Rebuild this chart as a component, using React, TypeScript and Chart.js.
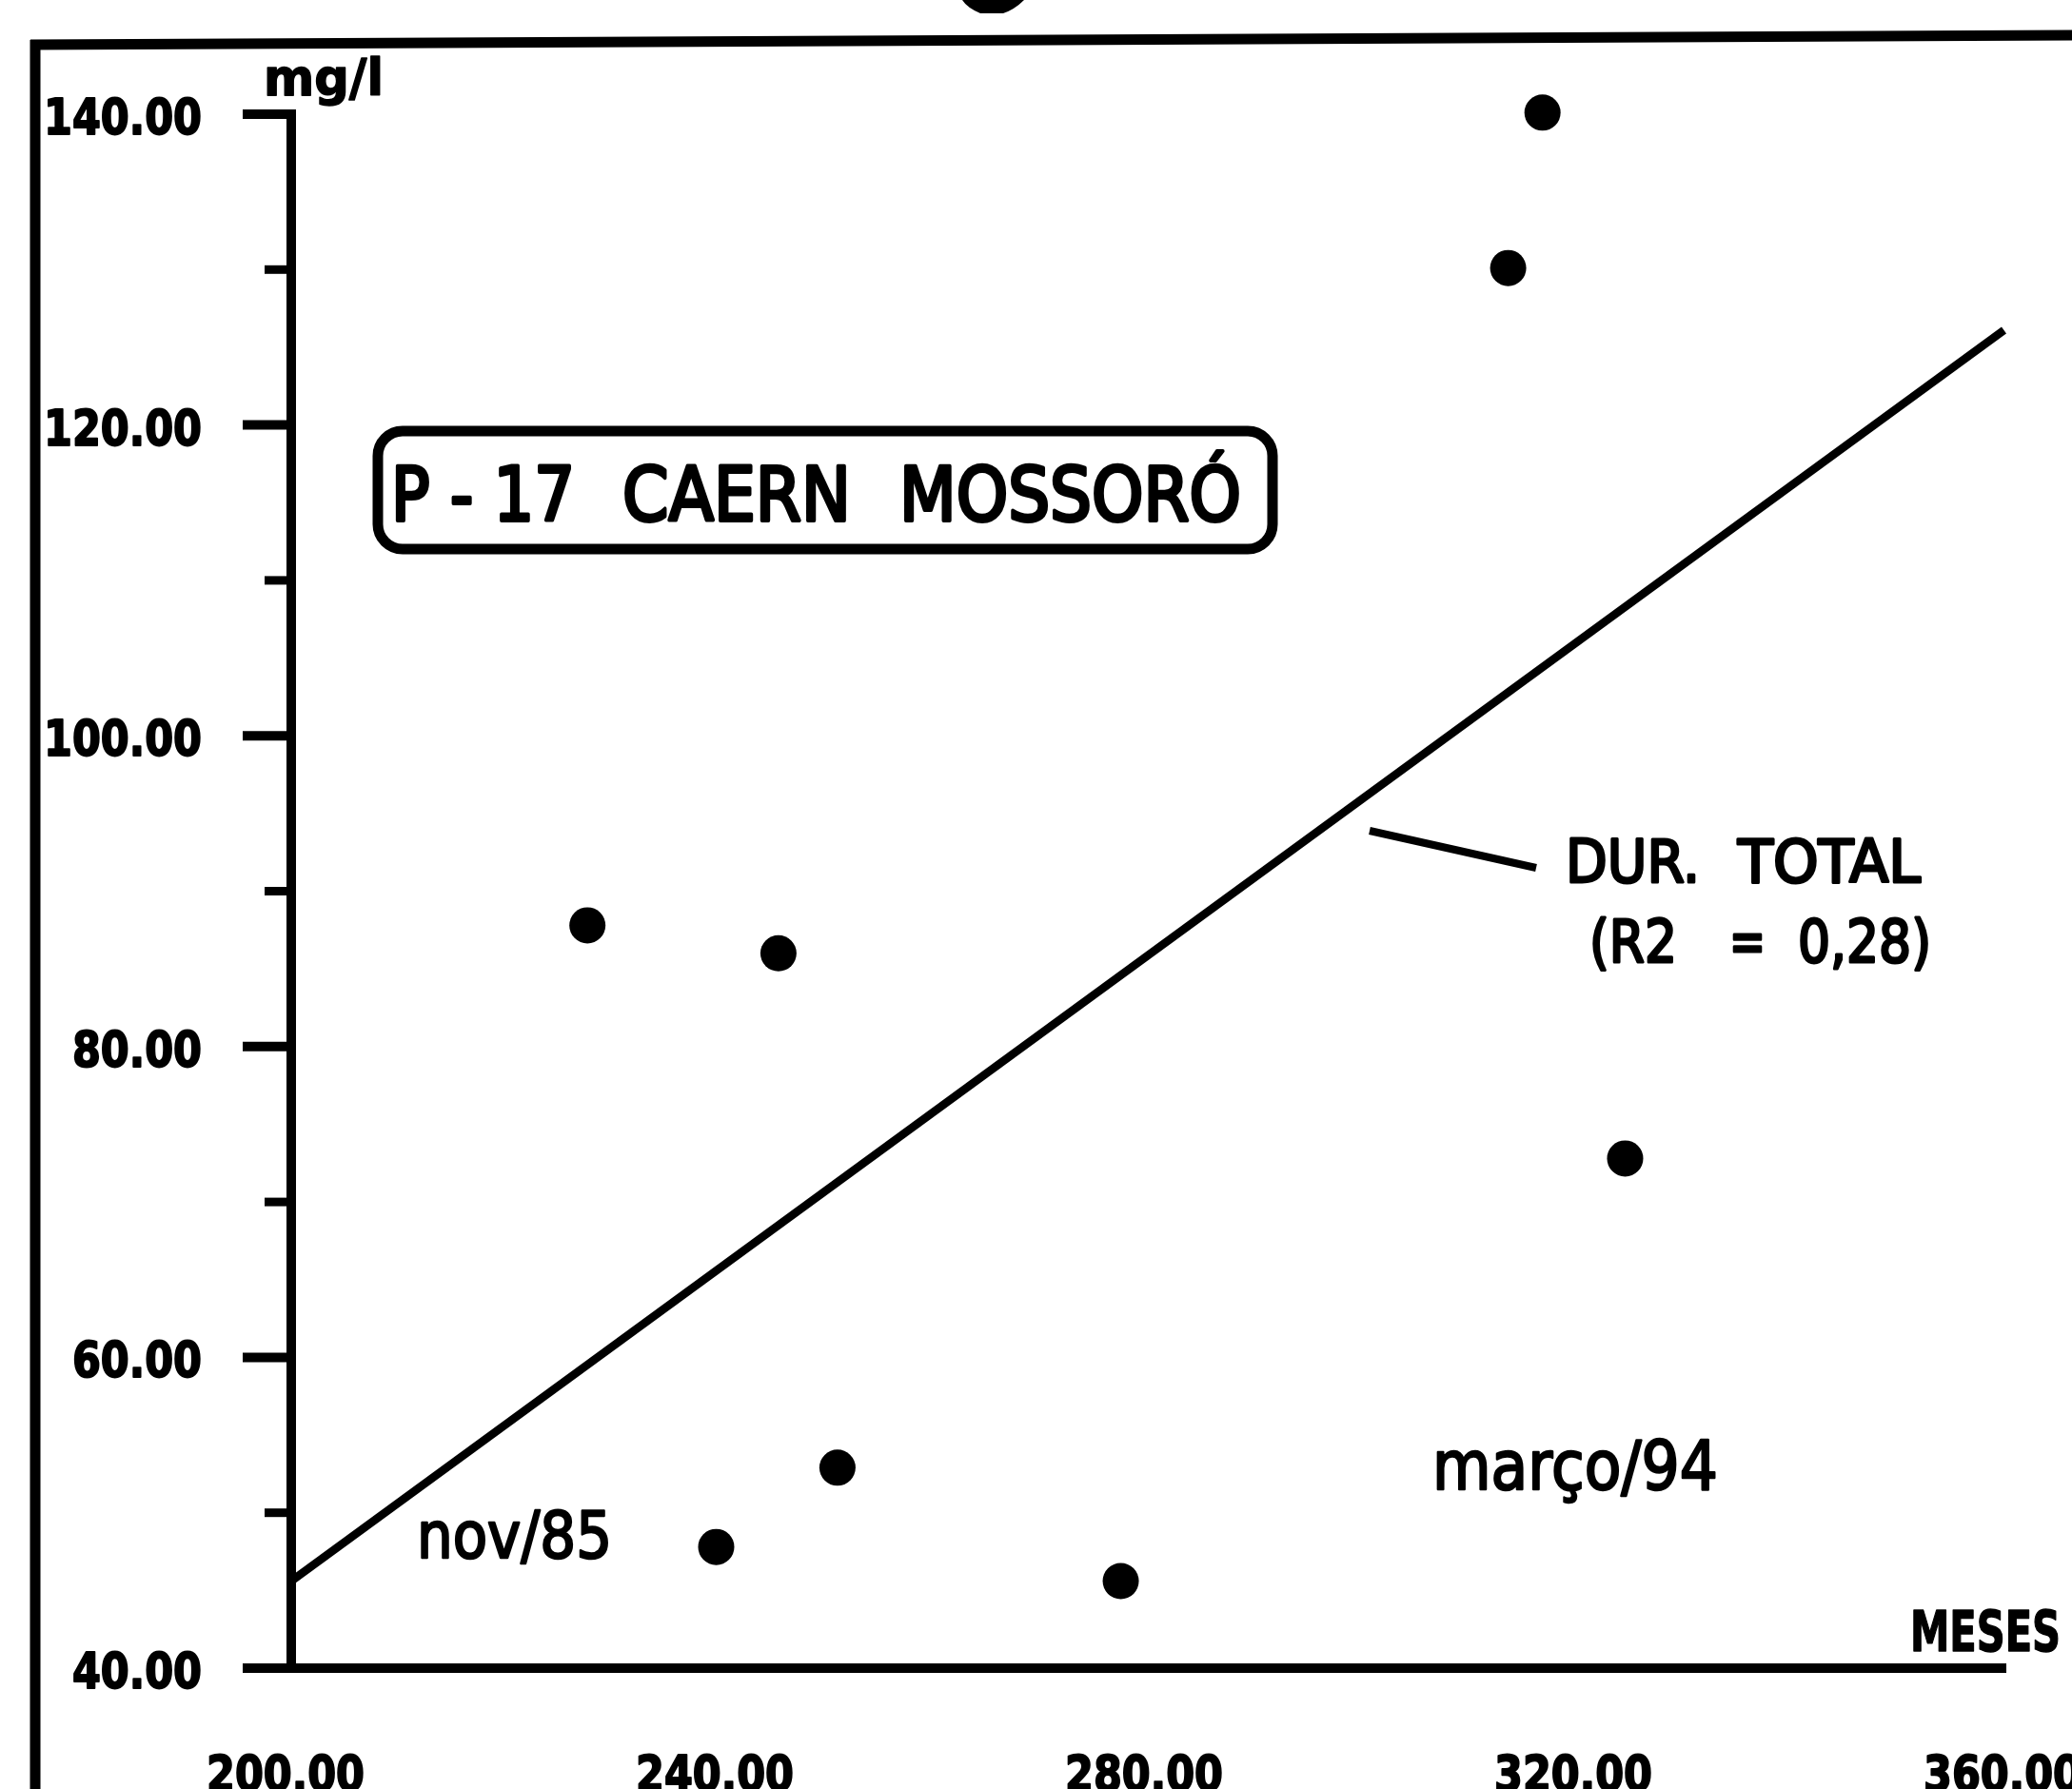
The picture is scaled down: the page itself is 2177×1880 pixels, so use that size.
import React, { useEffect, useRef } from "react";
import { Chart, registerables } from "chart.js";

Chart.register(...registerables);

// ---- data ----
const monthsX = [227.6, 245.4, 250.9, 239.6, 277.3, 313.4, 316.6, 324.3];
const hardnessY = [87.8, 86.0, 52.9, 47.8, 45.6, 130.1, 140.1, 72.8];
const trendX = [200, 359.6];
const trendY = [45.6, 126.1];
const xTicks = [200, 240, 280, 320, 360];
const xTickLabels = ["200.00", "240.00", "280.00", "320.00", "360.00"];
const yTicks = [40, 60, 80, 100, 120, 140];
const yTickLabels = ["40.00", "60.00", "80.00", "100.00", "120.00", "140.00"];
const yMinorTicks = [50, 70, 90, 110, 130];
const boxTitleParts = ["P - 17", "CAERN", "MOSSORÓ"];
const lineLabel = ["DUR.", "TOTAL"];
const r2Label = ["(R2", "=", "0,28)"];
const startLabel = "nov/85";
const endLabel = "março/94";
const yUnit = "mg/l";
const xUnit = "MESES";

const FONT = '"DejaVu Sans", "Liberation Sans", sans-serif';

function drawScaled(
  ctx: CanvasRenderingContext2D,
  text: string,
  x: number,
  baseline: number,
  font: string,
  opts: { width?: number; sx?: number; align?: "left" | "right" | "center"; stroke?: number } = {}
) {
  ctx.save();
  ctx.font = font;
  const w = ctx.measureText(text).width;
  const sx = opts.width ? opts.width / w : opts.sx ?? 1;
  const realW = w * sx;
  let left = x;
  if (opts.align === "right") left = x - realW;
  else if (opts.align === "center") left = x - realW / 2;
  ctx.translate(left, baseline);
  ctx.scale(sx, 1);
  ctx.textAlign = "left";
  ctx.textBaseline = "alphabetic";
  ctx.fillStyle = "#000";
  ctx.fillText(text, 0, 0);
  if (opts.stroke) {
    ctx.strokeStyle = "#000";
    ctx.lineWidth = opts.stroke;
    ctx.lineJoin = "round";
    ctx.strokeText(text, 0, 0);
  }
  ctx.restore();
}

const sketchPlugin = {
  id: "sketchDecor",
  beforeDraw(chart: any) {
    const ctx = chart.ctx as CanvasRenderingContext2D;
    ctx.save();
    ctx.fillStyle = "#fff";
    ctx.fillRect(0, 0, chart.width, chart.height);
    ctx.restore();
  },
  beforeDatasetsDraw(chart: any) {
    const ctx = chart.ctx as CanvasRenderingContext2D;
    const xs = chart.scales.x;
    const ys = chart.scales.y;
    const x0 = xs.getPixelForValue(xTicks[0]);
    const xEnd = xs.getPixelForValue(xTicks[xTicks.length - 1]);
    const y0 = ys.getPixelForValue(yTicks[0]);
    const yTop = ys.getPixelForValue(yTicks[yTicks.length - 1]);
    ctx.save();
    ctx.strokeStyle = "#000";
    ctx.fillStyle = "#000";
    ctx.lineCap = "butt";

    // outer frame (scanned page border)
    ctx.lineWidth = 11;
    ctx.beginPath();
    ctx.moveTo(37, 42);
    ctx.lineTo(37, 1880);
    ctx.stroke();
    ctx.beginPath();
    ctx.moveTo(32, 47);
    ctx.lineTo(2177, 37);
    ctx.stroke();

    // partial glyph of the cut-off title
    ctx.beginPath();
    ctx.moveTo(1011, 0);
    ctx.lineTo(1076, 0);
    ctx.quadraticCurveTo(1066, 10, 1054, 14);
    ctx.lineTo(1030, 14);
    ctx.quadraticCurveTo(1016, 8, 1011, 0);
    ctx.fill();

    // axes
    ctx.lineWidth = 10;
    ctx.beginPath();
    ctx.moveTo(x0, yTop - 5);
    ctx.lineTo(x0, y0 + 5);
    ctx.stroke();
    ctx.beginPath();
    ctx.moveTo(x0 - 51, y0);
    ctx.lineTo(xEnd - 2, y0);
    ctx.stroke();

    // y ticks
    yTicks.forEach((v) => {
      const y = ys.getPixelForValue(v);
      ctx.beginPath();
      ctx.moveTo(x0 - 51, y);
      ctx.lineTo(x0, y);
      ctx.stroke();
    });
    ctx.lineWidth = 9;
    yMinorTicks.forEach((v) => {
      const y = ys.getPixelForValue(v);
      ctx.beginPath();
      ctx.moveTo(x0 - 28, y);
      ctx.lineTo(x0, y);
      ctx.stroke();
    });
    ctx.restore();
  },
  afterDraw(chart: any) {
    const ctx = chart.ctx as CanvasRenderingContext2D;
    const xs = chart.scales.x;
    const ys = chart.scales.y;
    const x0 = xs.getPixelForValue(xTicks[0]);
    const tickFont = `bold 52px ${FONT}`;
    ctx.save();
    ctx.font = tickFont;
    const tickSx = 166 / ctx.measureText("140.00").width;
    ctx.restore();

    // y tick labels
    yTicks.forEach((v, i) => {
      const y = ys.getPixelForValue(v);
      drawScaled(ctx, yTickLabels[i], x0 - 94, y + 21, tickFont, { sx: tickSx, align: "right", stroke: 2 });
    });
    // x tick labels
    xTicks.forEach((v, i) => {
      const x = xs.getPixelForValue(v);
      drawScaled(ctx, xTickLabels[i], x - 6, 1882, tickFont, { sx: tickSx, align: "center", stroke: 2 });
    });

    // axis units
    drawScaled(ctx, yUnit, 277, 100, `bold 54px ${FONT}`, { width: 126, stroke: 1.5 });
    drawScaled(ctx, xUnit, 2007, 1735, `bold 58px ${FONT}`, { width: 158, stroke: 1.5 });

    // title box
    ctx.save();
    ctx.strokeStyle = "#000";
    ctx.lineWidth = 11;
    ctx.beginPath();
    (ctx as any).roundRect(397, 453, 940, 124, 26);
    ctx.stroke();
    ctx.restore();
    const boxFont = `78px ${FONT}`;
    drawScaled(ctx, boxTitleParts[0], 411, 547, boxFont, { width: 193, stroke: 4 });
    drawScaled(ctx, boxTitleParts[1], 654, 547, boxFont, { width: 240, stroke: 4 });
    drawScaled(ctx, boxTitleParts[2], 945, 547, boxFont, { width: 359, stroke: 4 });

    // regression label + leader
    ctx.save();
    ctx.strokeStyle = "#000";
    ctx.lineWidth = 8;
    ctx.beginPath();
    ctx.moveTo(1439, 873);
    ctx.lineTo(1614, 912);
    ctx.stroke();
    ctx.restore();
    const lblFont = `62px ${FONT}`;
    drawScaled(ctx, lineLabel[0], 1645, 927, lblFont, { width: 141, stroke: 3 });
    drawScaled(ctx, lineLabel[1], 1826, 927, lblFont, { width: 192, stroke: 3 });
    drawScaled(ctx, r2Label[0], 1670, 1011, lblFont, { width: 92, stroke: 3 });
    drawScaled(ctx, r2Label[1], 1817, 1011, lblFont, { width: 38, stroke: 3 });
    drawScaled(ctx, r2Label[2], 1889, 1011, lblFont, { width: 140, stroke: 3 });

    // period labels
    drawScaled(ctx, startLabel, 438, 1637, `67px ${FONT}`, { width: 205, stroke: 2.5 });
    drawScaled(ctx, endLabel, 1505, 1565, `71px ${FONT}`, { width: 300, stroke: 2.5 });
  },
};

export default function App() {
  const canvasRef = useRef<HTMLCanvasElement | null>(null);

  useEffect(() => {
    const canvas = canvasRef.current;
    if (!canvas) return;
    const points = monthsX.map((x, i) => ({ x, y: hardnessY[i] }));
    const trend = trendX.map((x, i) => ({ x, y: trendY[i] }));
    const chart = new Chart(canvas, {
      type: "scatter",
      data: {
        datasets: [
          {
            type: "line",
            label: "DUR. TOTAL (R2 = 0,28)",
            data: trend,
            borderColor: "#000",
            borderWidth: 8.5,
            pointRadius: 0,
            showLine: true,
            fill: false,
            clip: false as any,
          } as any,
          {
            label: "Dureza total",
            data: points,
            backgroundColor: "#000",
            borderColor: "#000",
            borderWidth: 0,
            pointRadius: 19,
            pointHoverRadius: 19,
            clip: false as any,
          } as any,
        ],
      },
      options: {
        animation: false,
        responsive: false,
        devicePixelRatio: 1,
        layout: { padding: { left: 306, top: 120, right: 67, bottom: 127 } },
        plugins: {
          legend: { display: false },
          tooltip: { enabled: false },
        },
        scales: {
          x: { type: "linear", min: 200, max: 360, display: false },
          y: { type: "linear", min: 40, max: 140, display: false },
        },
      },
      plugins: [sketchPlugin],
    });
    return () => chart.destroy();
  }, []);

  return (
    <div style={{ position: "absolute", left: 0, top: 0, width: 2177, height: 1880, background: "#fff" }}>
      <canvas ref={canvasRef} width={2177} height={1880} style={{ width: 2177, height: 1880, display: "block" }} />
    </div>
  );
}
